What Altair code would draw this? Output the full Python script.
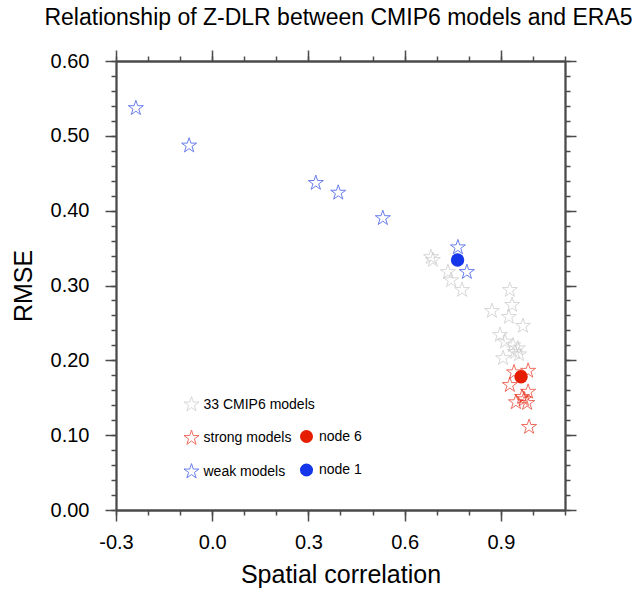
import altair as alt
import pandas as pd

# ---- data ----
gray_x = [0.682, 0.688, 0.735, 0.745, 0.779, 0.928, 0.935, 0.872, 0.925, 0.969,
          0.897, 0.913, 0.938, 0.953, 0.944, 0.957, 0.907]
gray_y = [0.338, 0.334, 0.318, 0.307, 0.294, 0.294, 0.274, 0.266, 0.258, 0.246,
          0.234, 0.225, 0.220, 0.216, 0.211, 0.208, 0.203]
strong_x = [0.941, 0.985, 0.928, 0.985, 0.966, 0.947, 0.982, 0.972, 0.988]
strong_y = [0.184, 0.186, 0.167, 0.158, 0.151, 0.144, 0.143, 0.148, 0.111]
weak_x = [-0.238, -0.072, 0.323, 0.393, 0.532, 0.766, 0.794]
weak_y = [0.537, 0.487, 0.437, 0.424, 0.390, 0.351, 0.318]
node_names = ["node 6", "node 1"]
node_x = [0.963, 0.765]
node_y = [0.178, 0.334]

group_names = ["33 CMIP6 models", "strong models", "weak models"]
star_colors = ["#c8c8c8", "#e8301c", "#2a48e6"]
node_colors = ["#e61e00", "#1436e8"]

x_major = [-0.3, 0.0, 0.3, 0.6, 0.9]
x_minor = [-0.3, -0.2, -0.1, 0.0, 0.1, 0.2, 0.3, 0.4, 0.5, 0.6, 0.7, 0.8, 0.9, 1.0, 1.1]
y_major = [0.0, 0.1, 0.2, 0.3, 0.4, 0.5, 0.6]
y_minor = [0.0, 0.02, 0.04, 0.06, 0.08, 0.1, 0.12, 0.14, 0.16, 0.18, 0.2, 0.22, 0.24,
           0.26, 0.28, 0.3, 0.32, 0.34, 0.36, 0.38, 0.4, 0.42, 0.44, 0.46, 0.48, 0.5,
           0.52, 0.54, 0.56, 0.58, 0.6]

stars = pd.DataFrame({
    "x": gray_x + strong_x + weak_x,
    "y": gray_y + strong_y + weak_y,
    "group": [group_names[0]] * len(gray_x) + [group_names[1]] * len(strong_x)
    + [group_names[2]] * len(weak_x),
})
nodes = pd.DataFrame({"x": node_x, "y": node_y, "node": node_names})

FONT = "Liberation Sans"
AX = "#4a4a4a"
STAR = ("M0,-1L0.225,-0.309L0.951,-0.309L0.363,0.118L0.588,0.809L0,0.382"
        "L-0.588,0.809L-0.363,0.118L-0.951,-0.309L-0.225,-0.309Z")
xscale = alt.Scale(domain=[-0.3, 1.1], nice=False, zero=False)
yscale = alt.Scale(domain=[0.0, 0.6], nice=False, zero=False)

x_label = "datum.value < 0 ? '-' + format(-datum.value, '.1f') : format(datum.value, '.1f')"


def axis_layer(xorient, yorient, xv, yv, tick, labels):
    common = dict(tickCount=40, tickSize=tick, labels=labels, grid=False,
                  domainColor=AX, tickColor=AX, domainWidth=1.8, tickWidth=1.5)
    xa = dict(orient=xorient, values=xv, **common)
    ya = dict(orient=yorient, values=yv, **common)
    if labels:
        xa.update(labelExpr=x_label, labelFontSize=20, labelFont=FONT, labelColor="black",
                  labelPadding=11, labelFlush=False, labelOverlap=False,
                  title="Spatial correlation", titleFontSize=25, titleFont=FONT,
                  titleFontWeight="normal", titleColor="black", titlePadding=10)
        ya.update(format=".2f", labelFontSize=20, labelFont=FONT, labelColor="black",
                  labelPadding=16, labelFlush=False, labelOverlap=False,
                  title="RMSE", titleFontSize=25, titleFont=FONT,
                  titleFontWeight="normal", titleColor="black", titlePadding=14)
    else:
        xa.update(title=None)
        ya.update(title=None)
    return alt.Chart(nodes).mark_point(opacity=0).encode(
        x=alt.X("x:Q", scale=xscale, axis=alt.Axis(**xa)),
        y=alt.Y("y:Q", scale=yscale, axis=alt.Axis(**ya)),
    )


ax_main = axis_layer("bottom", "left", x_major, y_major, 11, True)
ax_minor = axis_layer("bottom", "left", x_minor, y_minor, 5, False)
ax_top = axis_layer("top", "right", x_major, y_major, 11, False)
ax_top_minor = axis_layer("top", "right", x_minor, y_minor, 5, False)

star_layer = alt.Chart(stars).mark_point(shape=STAR, filled=False, size=250,
                                         strokeWidth=1).encode(
    x=alt.X("x:Q", scale=xscale, axis=None),
    y=alt.Y("y:Q", scale=yscale, axis=None),
    stroke=alt.Stroke("group:N", scale=alt.Scale(domain=group_names, range=star_colors),
                      legend=alt.Legend(title=None, orient="none", legendX=67, legendY=335,
                                        symbolType=STAR, symbolSize=250,
                                        symbolStrokeWidth=1, labelFontSize=14,
                                        labelFont=FONT, labelColor="black",
                                        labelOffset=3.5, rowPadding=14.5, padding=0)),
)

node_layer = alt.Chart(nodes).mark_point(shape="circle", filled=True, size=180,
                                         opacity=1).encode(
    x=alt.X("x:Q", scale=xscale, axis=None),
    y=alt.Y("y:Q", scale=yscale, axis=None),
    fill=alt.Fill("node:N", scale=alt.Scale(domain=node_names, range=node_colors),
                  legend=alt.Legend(title=None, orient="none", legendX=183, legendY=368,
                                    symbolType="circle", symbolSize=170,
                                    labelFontSize=14, labelFont=FONT, labelColor="black",
                                    labelOffset=5, rowPadding=18.5, padding=0)),
)

chart = alt.layer(ax_main, ax_minor, ax_top, ax_top_minor, star_layer, node_layer).resolve_axis(
    x="independent", y="independent"
).properties(
    width=449, height=449,
    title=alt.TitleParams("Relationship of Z-DLR between CMIP6 models and ERA5",
                          fontSize=23, font=FONT, fontWeight="normal", color="black",
                          anchor="middle", offset=19, dx=-2),
    autosize=alt.AutoSizeParams(type="none"),
    padding={"left": 116, "top": 61, "right": 73, "bottom": 82},
    background="white",
).configure_view(stroke=None)

chart.save("out.html", embed_options={"renderer": "svg", "actions": False})
